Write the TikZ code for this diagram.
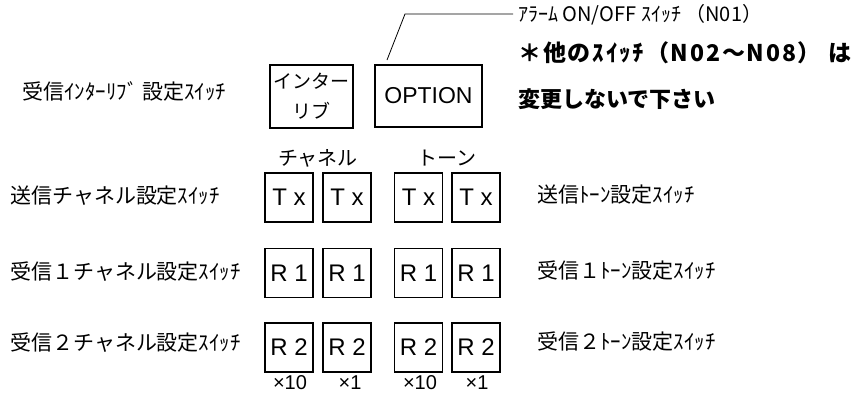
\documentclass[tikz,border=0pt]{standalone}
\usepackage{fontspec}
\setmainfont{Noto Sans CJK JP}
\newfontfamily\jp{Noto Sans CJK JP}
\newfontfamily\jpwide[LetterSpace=8]{Noto Sans CJK JP}
\newfontfamily\lat{Liberation Sans}
\begin{document}
\begin{tikzpicture}[x=1pt,y=-1pt,
  swbox/.style={draw,line width=1.5pt,minimum width=48pt,minimum height=49pt,inner sep=0pt,font=\lat\fontsize{24}{24}\selectfont},
  lbl/.style={anchor=west,inner sep=0pt,font=\jp\fontsize{21}{21}\selectfont},
  head/.style={inner sep=0pt,font=\jp\fontsize{20}{20}\selectfont},
  mult/.style={inner sep=0pt,font=\lat\fontsize{20}{20}\selectfont},
  big/.style={anchor=west,inner sep=0pt,font=\jp\bfseries\fontsize{22}{22}\selectfont},
  leader/.style={line width=0.8pt}]
\useasboundingbox (0,0) rectangle (854,394);
% top boxes
\node[draw,line width=1.5pt,minimum width=83pt,minimum height=63pt,inner sep=0pt,align=center,
      font=\jp\fontsize{19}{30}\selectfont] (il) at (311.5,96.5) {インター\\リブ};
\node[draw,line width=1.5pt,minimum width=107pt,minimum height=62pt,inner sep=0pt,
      font=\lat\fontsize{23}{23}\selectfont] (opt) at (428.5,96) {OPTION};
% left labels
\node[lbl] (l1) at (22,91) {受信ｲﾝﾀｰﾘﾌﾞ 設定ｽｲｯﾁ};
\node[lbl] (l2) at (10,196) {送信チャネル設定ｽｲｯﾁ};
\node[lbl] (l3) at (10,272) {受信１チャネル設定ｽｲｯﾁ};
\node[lbl] (l4) at (10,343) {受信２チャネル設定ｽｲｯﾁ};
% right labels
\node[lbl] (r2) at (537,195) {送信ﾄｰﾝ設定ｽｲｯﾁ};
\node[lbl] (r3) at (537,271) {受信１ﾄｰﾝ設定ｽｲｯﾁ};
\node[lbl] (r4) at (537,342) {受信２ﾄｰﾝ設定ｽｲｯﾁ};
% column headers
\node[head] (hch) at (318,158) {チャネル};
\node[head] (hto) at (447,158) {トーン};
% switch boxes
\node[swbox] (t1) at (289,197.5) {T x};
\node[swbox] (t2) at (347,197.5) {T x};
\node[swbox] (t3) at (418.5,197.5) {T x};
\node[swbox] (t4) at (476,197.5) {T x};
\node[swbox] (a1) at (289,273) {R 1};
\node[swbox] (a2) at (347,273) {R 1};
\node[swbox] (a3) at (418.5,273) {R 1};
\node[swbox] (a4) at (476,273) {R 1};
\node[swbox] (b1) at (289,347.5) {R 2};
\node[swbox] (b2) at (347,347.5) {R 2};
\node[swbox] (b3) at (418.5,347.5) {R 2};
\node[swbox] (b4) at (476,347.5) {R 2};
% multipliers
\node[mult] (m1) at (290,383) {×10};
\node[mult] (m2) at (350,383) {×1};
\node[mult] (m3) at (420,383) {×10};
\node[mult] (m4) at (477,383) {×1};
% alarm note
\node[anchor=west,inner sep=0pt,font=\jp\fontsize{20}{20}\selectfont] (alarm) at (518,15) {ｱﾗｰﾑ ON/OFF ｽｲｯﾁ （N01）};
\coordinate (lp) at (387,60);
\coordinate (lk) at (405,14);
\draw[leader] (lp) -- (lk) -- ([xshift=-5pt]lk -| alarm.west);
% big note
\node[big,font=\jpwide\bfseries\fontsize{23}{23}\selectfont] (n1) at (518,53) {＊他のｽｲｯﾁ（N02～N08）\hspace{8pt}は};
\node[big] (n2) at (518,99) {変更しないで下さい};
\end{tikzpicture}
\end{document}
